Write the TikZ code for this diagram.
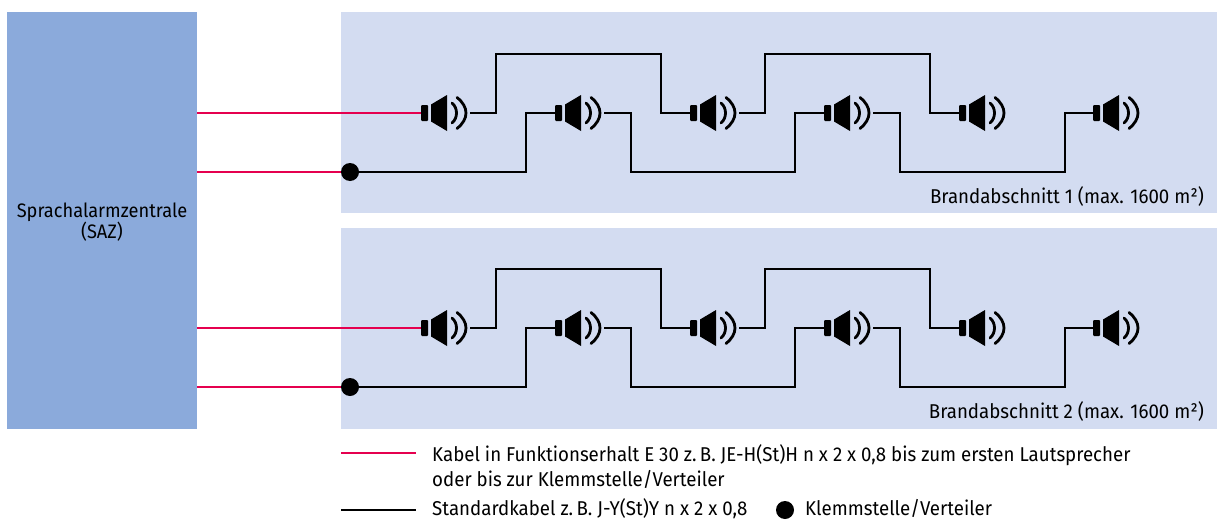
\documentclass[tikz,border=0pt]{standalone}
\usepackage{fontspec}
\setmainfont{Fira Sans}[FakeStretch=0.935]
\usetikzlibrary{calc}
\definecolor{sazblue}{HTML}{8BAADB}
\definecolor{zoneblue}{HTML}{D3DCF1}
\definecolor{fered}{HTML}{E5004F}
\tikzset{
  speaker/.pic={
    \coordinate (-in) at (-24,0);
    \coordinate (-out) at (25,0);
    \fill[black, rounded corners=1pt] (-24,-8) rectangle (-17,8);
    \fill[black] (-14,-8.5) -- (2,-18) -- (2,18) -- (-14,8.5) -- cycle;
    \draw[line width=2.8pt, line cap=round] (7,-10) .. controls (13,-5) and (13,5) .. (7,10);
    \draw[line width=2.8pt, line cap=round] (12,-15.5) .. controls (24,-6) and (24,6) .. (12,15.5);
  },
  cable/.style={line width=1.3pt, black},
  fecable/.style={line width=1.3pt, fered},
  klemme/.style={circle, fill=black, inner sep=0pt, minimum size=18pt},
  label/.style={inner sep=0pt, font=\fontsize{20}{25}\selectfont, text=black}
}
\begin{document}
\begin{tikzpicture}[x=1pt, y=-1pt]
  \useasboundingbox (0,0) rectangle (1217,519);
  \node[fill=sazblue, minimum width=190pt, minimum height=417pt, inner sep=0pt, anchor=north west] (saz) at (7,12) {};
  \node[label, align=center, font=\fontsize{19.5}{21}\selectfont] (sazlabel) at (102,222) {Sprachalarmzentrale\\(SAZ)};

  \foreach \r/\dy/\zt in {1/0/12, 2/215/228} {
    \node[fill=zoneblue, minimum width=876pt, minimum height=201pt, inner sep=0pt, anchor=north west] (zone\r) at (341,\zt) {};
    \node[label, anchor=base east] (zonelabel\r) at (1204,{203+\dy}) {Brandabschnitt \r{} (max. 1600 m²)};

    \pic (a\r) at (445,{113+\dy}) {speaker};
    \pic (b\r) at (579,{113+\dy}) {speaker};
    \pic (c\r) at (714,{113+\dy}) {speaker};
    \pic (d\r) at (848,{113+\dy}) {speaker};
    \pic (e\r) at (983,{113+\dy}) {speaker};
    \pic (f\r) at (1117,{113+\dy}) {speaker};
    \node[klemme] (k\r) at (350,{172+\dy}) {};

    \draw[fecable] (saz.east |- a\r-in) -- (a\r-in);
    \draw[fecable] (saz.east |- k\r) -- (k\r);

    \draw[cable] (a\r-out) -- ++(26,0) -- ++(0,-59) -- ++(165,0) -- ++(0,59) -- (c\r-in);
    \draw[cable] (c\r-out) -- ++(26,0) -- ++(0,-59) -- ++(165,0) -- ++(0,59) -- (e\r-in);
    \draw[cable] (k\r) -- ++(176,0) -- ++(0,-59) -- (b\r-in);
    \draw[cable] (b\r-out) -- ++(27,0) -- ++(0,59) -- ++(164,0) -- ++(0,-59) -- (d\r-in);
    \draw[cable] (d\r-out) -- ++(27,0) -- ++(0,59) -- ++(165,0) -- ++(0,-59) -- (f\r-in);
  }

  % legend
  \coordinate (rl) at (341,453);
  \coordinate (rr) at (416,453);
  \coordinate (sl) at (341,510);
  \coordinate (sr) at (416,510);
  \draw[fecable] (rl) -- (rr);
  \draw[cable] (sl) -- (sr);
  \node[label, anchor=base west, align=left] (felabel) at (432,486) {Kabel in Funktionserhalt E 30 z.\,B. JE-H(St)H n x 2 x 0,8 bis zum ersten Lautsprecher\\oder bis zur Klemmstelle/Verteiler};
  \node[label, anchor=base west] (stdlabel) at (432,515) {Standardkabel z.\,B. J-Y(St)Y n x 2 x 0,8};
  \node[klemme] (kl) at (785,510) {};
  \node[label, anchor=base west] (kllabel) at (805,515) {Klemmstelle/Verteiler};
\end{tikzpicture}
\end{document}
